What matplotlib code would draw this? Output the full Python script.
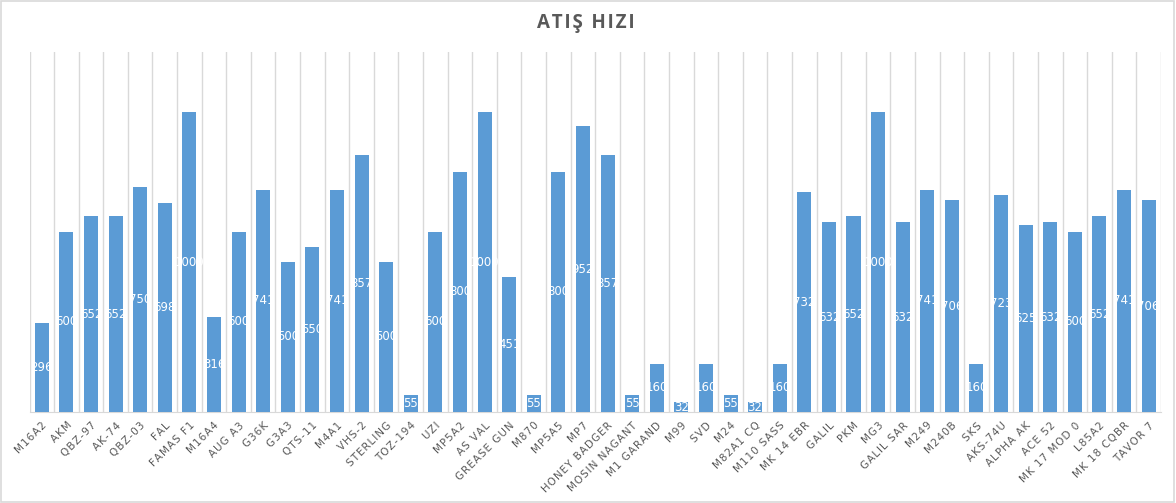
import matplotlib.pyplot as plt
from matplotlib.patches import Rectangle

names = ["M16A2", "AKM", "QBZ-97", "AK-74", "QBZ-03", "FAL", "FAMAS F1", "M16A4",
         "AUG A3", "G36K", "G3A3", "QTS-11", "M4A1", "VHS-2", "STERLING", "TOZ-194",
         "UZI", "MP5A2", "AS VAL", "GREASE GUN", "M870", "MP5A5", "MP7", "HONEY BADGER",
         "MOSIN NAGANT", "M1 GARAND", "M99", "SVD", "M24", "M82A1 CQ", "M110 SASS",
         "MK 14 EBR", "GALIL", "PKM", "MG3", "GALIL SAR", "M249", "M240B", "SKS",
         "AKS-74U", "ALPHA AK", "ACE 52", "MK 17 MOD 0", "L85A2", "MK 18 CQBR", "TAVOR 7"]
rof = [296, 600, 652, 652, 750, 698, 1000, 316,
       600, 741, 500, 550, 741, 857, 500, 55,
       600, 800, 1000, 451, 55, 800, 952, 857,
       55, 160, 32, 160, 55, 32, 160,
       732, 632, 652, 1000, 632, 741, 706, 160,
       723, 625, 632, 600, 652, 741, 706]

grey = "#595959"
blue = "#5B9BD5"

fig = plt.figure(figsize=(11.76, 5.03), dpi=100)
ax = fig.add_axes([0.0251, 0.181, 0.9621, 0.7155])

x = list(range(len(names)))
bars = ax.bar(x, rof, width=0.57, color=blue, zorder=3)

for b, v in zip(bars, rof):
    t = ax.text(b.get_x() + b.get_width() / 2, v / 2, str(v), ha="center", va="center",
                color="white", fontsize=8.5, zorder=4)
    t.set_clip_path(b)

# category separators
for i in range(len(names) + 1):
    ax.axvline(i - 0.5, color="#d9d9d9", lw=1, zorder=1)

ax.set_xlim(-0.5, len(names) - 0.5)
ax.set_ylim(0, 1200)
ax.set_yticks([])
ax.set_xticks(x)
# excel-style letter spacing
spaced = ["\u200a".join(n) for n in names]
ax.set_xticklabels(spaced, rotation=45, ha="right", rotation_mode="anchor",
                   fontsize=7.5, color=grey)
ax.tick_params(axis="x", length=0, pad=6)
for s in ["top", "left", "right"]:
    ax.spines[s].set_visible(False)
ax.spines["bottom"].set_color("#d9d9d9")

title = "\u200a".join("ATIŞ HIZI")
fig.text(0.498, 0.955, title, ha="center", va="center", fontsize=13.5,
         fontweight="bold", color=grey, family=["Open Sans", "DejaVu Sans"])

fig.patches.append(Rectangle((0.0005, 0.001), 0.998, 0.997, transform=fig.transFigure,
                             fill=False, edgecolor="#d9d9d9", lw=1.2))

fig.savefig("out.png", dpi=100)
